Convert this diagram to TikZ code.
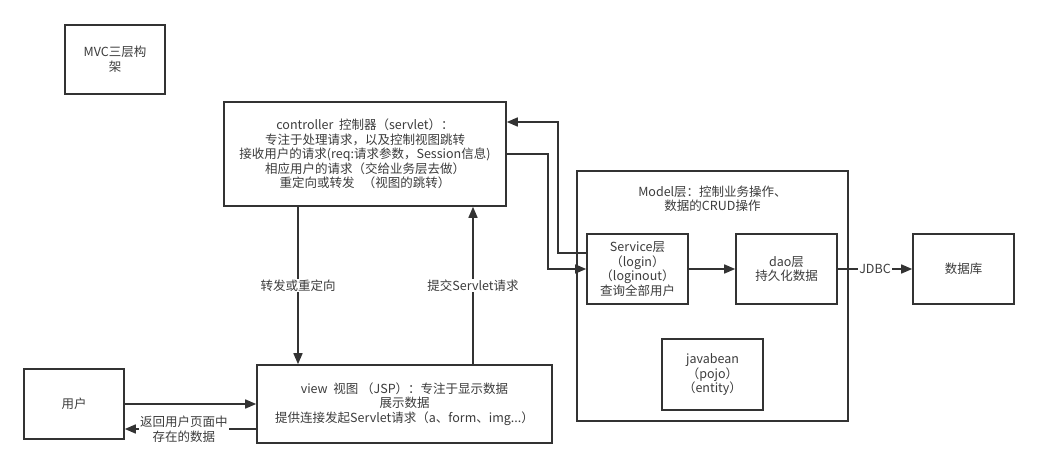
\documentclass[tikz,border=0pt]{standalone}
\usepackage{fontspec}
\setmainfont{Noto Sans CJK SC}
\usetikzlibrary{arrows.meta,positioning,calc}
\definecolor{main}{RGB}{51, 51, 51}
\definecolor{txt}{RGB}{60, 60, 60}
\tikzset{
  mybox/.style={
    draw=main, line width=1.6pt, fill=white, align=center,
    text=txt, font=\fontsize{12.5}{14.5}\selectfont, inner sep=2pt
  },
  arr/.style={-{Triangle[length=11pt,width=9pt]}, line width=1.6pt, draw=main},
  lab/.style={fill=white, text=txt, font=\fontsize{12.5}{14.5}\selectfont,
    inner sep=1pt, align=center}
}

\begin{document}
\begin{tikzpicture}[x=1pt,y=-1pt]
\useasboundingbox (0,0) rectangle (1039,468);

\node[mybox, minimum width=100pt, minimum height=69pt] (mvc) at (115,59.5)
  {MVC三层构\\架};

\node[mybox, minimum width=282pt, minimum height=104pt] (ctrl) at (365,154)
  {controller\ \ 控制器（servlet）：\\
   专注于处理请求，以及控制视图跳转\\
   接收用户的请求(req:请求参数，Session信息)\\
   相应用户的请求（交给业务层去做）\\
   重定向或转发\ \ \ （视图的跳转）};

\node[mybox, minimum width=295pt, minimum height=78pt] (view) at (404.5,404)
  {view\ \ 视图\ （JSP）：专注于显示数据\\
   展示数据\\
   提供连接发起Servlet请求（a、form、img...）};

\node[mybox, minimum width=100pt, minimum height=70pt] (user) at (74,404) {用户};

% model layer
\node[mybox, minimum width=271pt, minimum height=250pt] (model) at (712.5,296) {};
\node[lab, fill=none] (modeltxt) at (712.5,199)
  {Model层：控制业务操作、\\数据的CRUD操作};

\node[mybox, minimum width=101pt, minimum height=70pt] (svc) at (637.5,269)
  {Service层\\（login）\\（loginout）\\查询全部用户};
\node[mybox, minimum width=101pt, minimum height=70pt] (dao) at (786.5,269)
  {dao层\\持久化数据};
\node[mybox, minimum width=101pt, minimum height=71pt] (bean) at (712.5,374.5)
  {javabean\\（pojo）\\（entity）};

\node[mybox, minimum width=101pt, minimum height=70pt] (db) at (963.5,269) {数据库};

\draw[arr] (svc) -- (dao);
\draw[arr] (dao) -- node[lab] {JDBC} (db);

\draw[arr] (ctrl.east) -- ++(41,0) |- (svc.west);
\draw[arr] ([yshift=16pt]svc.west) -- ++(-28,0) |- ([yshift=32pt]ctrl.east);

\draw[arr] ([xshift=-67pt]ctrl.south) -- node[lab] {转发或重定向}
  ([xshift=-67pt]ctrl.south |- view.north);
\draw[arr] ([xshift=68.5pt]view.north) -- node[lab] {提交Servlet请求}
  ([xshift=68.5pt]view.north |- ctrl.south);

\draw[arr] (user.east) -- (view.west);
\draw[arr] ([yshift=-25pt]view.west) -- node[lab, pos=0.55] {返回用户页面中\\存在的数据}
  ([yshift=-25pt]user.east);
\end{tikzpicture}
\end{document}
